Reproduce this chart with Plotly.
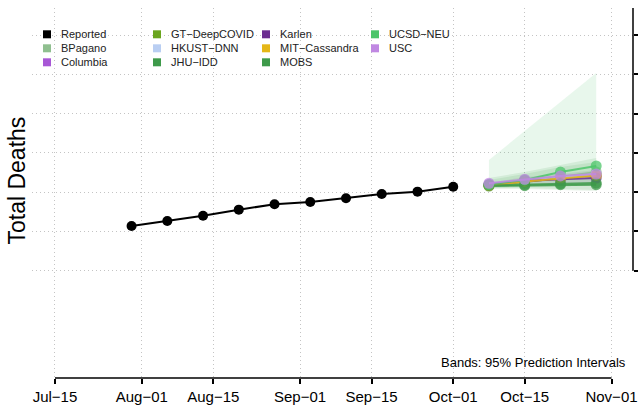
import plotly.graph_objects as go

# ---------------- data ----------------
reported_dates = ["2020-07-30", "2020-08-06", "2020-08-13", "2020-08-20", "2020-08-27",
                  "2020-09-03", "2020-09-10", "2020-09-17", "2020-09-24", "2020-10-01"]
reported_values = [4569, 4633, 4700, 4777, 4845, 4875, 4922, 4976, 5006, 5069]

forecast_dates = ["2020-10-08", "2020-10-15", "2020-10-22", "2020-10-29"]

models = ["BPagano", "Columbia", "GT\u2212DeepCOVID", "HKUST\u2212DNN", "JHU\u2212IDD",
          "Karlen", "MIT\u2212Cassandra", "MOBS", "UCSD\u2212NEU", "USC"]
model_colors = ["#8FBF8F", "#A857D6", "#6AA51E", "#B9CEF2", "#3E9A4A",
                "#6B2D90", "#E5B717", "#3E9A4A", "#4CC56A", "#C088E2"]

point_BPagano = [5091, 5142, 5193, 5257]
point_Columbia = [5097, 5142, 5180, 5219]
point_GT = [5091, 5129, 5180, 5219]
point_HKUST = [5094, 5142, 5186, 5231]
point_JHU = [5078, 5082, 5095, 5095]
point_Karlen = [5091, 5142, 5163, 5180]
point_MIT = [5082, 5136, 5174, 5212]
point_MOBS = [5085, 5097, 5110, 5116]
point_UCSD = [5097, 5155, 5256, 5333]
point_USC = [5113, 5164, 5206, 5231]
point_values = [point_BPagano, point_Columbia, point_GT, point_HKUST, point_JHU,
                point_Karlen, point_MIT, point_MOBS, point_UCSD, point_USC]

# 95% prediction intervals (lower, upper)
lower_UCSD = [5053, 5066, 5078, 5091]
upper_UCSD = [5409, 5778, 6148, 6517]
lower_MOBS = [5040, 5040, 5027, 5015]
upper_MOBS = [5180, 5256, 5346, 5435]
lower_JHU = [5053, 5053, 5040, 5027]
upper_JHU = [5155, 5231, 5320, 5384]
lower_Karlen = [5066, 5097, 5110, 5116]
upper_Karlen = [5116, 5193, 5231, 5282]
band_models = ["UCSD\u2212NEU", "MOBS", "JHU\u2212IDD", "Karlen"]
band_lower = [lower_UCSD, lower_MOBS, lower_JHU, lower_Karlen]
band_upper = [upper_UCSD, upper_MOBS, upper_JHU, upper_Karlen]
band_colors = ["rgba(76,197,106,0.13)", "rgba(62,154,74,0.12)",
               "rgba(62,154,74,0.12)", "rgba(107,45,144,0.10)"]

x_tick_vals = ["2020-07-15", "2020-08-01", "2020-08-15", "2020-09-01",
               "2020-09-15", "2020-10-01", "2020-10-15", "2020-11-01"]
x_tick_text = ["Jul\u221215", "Aug\u221201", "Aug\u221215", "Sep\u221201",
               "Sep\u221215", "Oct\u221201", "Oct\u221215", "Nov\u221201"]
y_tick_vals = [4000, 4500, 5000, 5500, 6000, 6500, 7000]

X_RANGE = ["2020-07-10 12:00", "2020-11-05 05:00"]
Y_RANGE = [2634, 7344]

# ---------------- figure ----------------
W, H = 638, 410
ML, MR, MT, MB = 32, 5, 8, 32
PW, PH = W - ML - MR, H - MT - MB
FONT = "Liberation Sans, Arial, Helvetica, sans-serif"
GRID = "#C4C4C4"
GRIDDASH = "1px,3px"


def px(xp):
    return (xp - ML) / PW


def py(yp):
    return (H - MB - yp) / PH


fig = go.Figure()

# bands
for name, lo, up, col in zip(band_models, band_lower, band_upper, band_colors):
    fig.add_trace(go.Scatter(x=forecast_dates + forecast_dates[::-1], y=up + lo[::-1],
                             fill="toself", fillcolor=col, line=dict(width=0),
                             mode="lines", hoverinfo="skip", showlegend=False))

# reported
fig.add_trace(go.Scatter(x=reported_dates, y=reported_values, mode="lines+markers",
                         line=dict(color="black", width=2),
                         marker=dict(color="black", size=10), showlegend=False))


def rgba(hx, a):
    hx = hx.lstrip("#")
    return "rgba(%d,%d,%d,%.2f)" % (int(hx[0:2], 16), int(hx[2:4], 16), int(hx[4:6], 16), a)


for name, col, vals in zip(models, model_colors, point_values):
    fig.add_trace(go.Scatter(x=forecast_dates, y=vals, mode="lines+markers", name=name,
                             line=dict(color=rgba(col, 0.85), width=2),
                             marker=dict(color=rgba(col, 0.75), size=11),
                             showlegend=False))

shapes = []
annotations = []

# x axis line (from first to last tick)
shapes.append(dict(type="line", xref="x", yref="paper", x0=x_tick_vals[0], x1=x_tick_vals[-1],
                   y0=0, y1=0, line=dict(color="black", width=1.5)))
# right y axis line
shapes.append(dict(type="line", xref="paper", yref="y", x0=1, x1=1,
                   y0=y_tick_vals[0], y1=Y_RANGE[1], line=dict(color="black", width=1.5)))

# manual legend (column-major)
legend_names = ["Reported"] + models
legend_colors = ["#000000"] + model_colors
col_sq = [43, 153, 262, 371]
row_y = [34.3, 48.3, 62.3]
for i, (nm, c) in enumerate(zip(legend_names, legend_colors)):
    ci, ri = i // 3, i % 3
    x0 = col_sq[ci]
    yc = row_y[ri]
    shapes.append(dict(type="rect", xref="paper", yref="paper",
                       x0=px(x0), x1=px(x0 + 8), y0=py(yc + 4), y1=py(yc - 4),
                       fillcolor=c, line=dict(width=0)))
    annotations.append(dict(xref="paper", yref="paper", x=px(x0 + 16), y=py(yc),
                            text=nm, showarrow=False, xanchor="left", yanchor="middle",
                            font=dict(family=FONT, size=11, color="#222222")))

annotations.append(dict(xref="paper", yref="paper", x=px(16.5), y=py(181),
                        text="Total Deaths", textangle=-90, showarrow=False,
                        xanchor="center", yanchor="middle",
                        font=dict(family=FONT, size=23, color="black")))
annotations.append(dict(xref="paper", yref="paper", x=px(628), y=py(362),
                        text="Bands: 95% Prediction Intervals", showarrow=False,
                        xanchor="right", yanchor="middle",
                        font=dict(family=FONT, size=13, color="black")))

fig.update_layout(
    width=W, height=H,
    margin=dict(l=ML, r=MR, t=MT, b=MB, pad=0, autoexpand=False),
    paper_bgcolor="white", plot_bgcolor="white",
    showlegend=False,
    shapes=shapes, annotations=annotations,
    xaxis=dict(range=X_RANGE, tickvals=x_tick_vals, ticktext=x_tick_text,
               automargin=False,
               showgrid=True, gridcolor=GRID, griddash=GRIDDASH, gridwidth=1,
               zeroline=False, showline=False,
               ticks="outside", ticklen=5, tickwidth=1.5, tickcolor="black",
               tickfont=dict(family=FONT, size=15, color="black")),
    yaxis=dict(range=Y_RANGE, tickvals=y_tick_vals, side="right",
               automargin=False,
               showgrid=True, gridcolor=GRID, griddash=GRIDDASH, gridwidth=1,
               zeroline=False, showline=False, showticklabels=False,
               ticks="outside", ticklen=5, tickwidth=1.5, tickcolor="black"),
)

fig.write_html("out.html", config={"displayModeBar": False},
               post_script="document.body.style.margin='0';document.body.style.overflow='hidden';")
